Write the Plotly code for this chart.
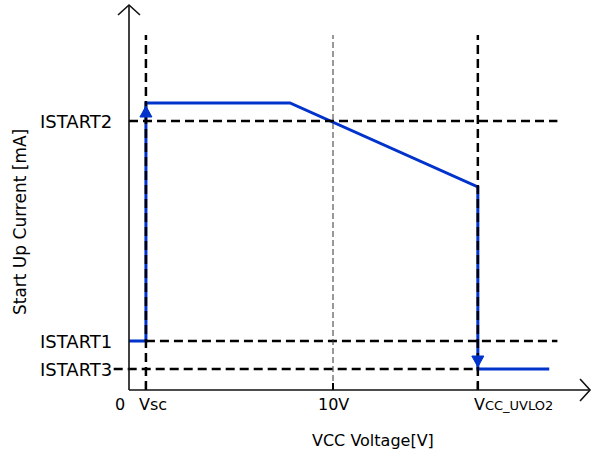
import plotly.graph_objects as go

# ---- data (schematic units: x in V, y in arbitrary current units) ----
x_labels = ["0", "Vsc", "10V", "V<span style=\"font-size:13px\">CC_UVLO2</span>"]
y_labels = ["ISTART2", "ISTART1", "ISTART3"]

V_SC = 0.83
V_10 = 10.0
V_KNEE = 7.89
V_UVLO2 = 17.1
V_END = 20.6

I_START1 = 0.49
I_START2 = 2.69
I_START3 = 0.21
I_PEAK = 2.87
I_AT_UVLO = 2.03

curve_x = [0, V_SC, V_SC, V_KNEE, V_UVLO2, V_UVLO2, V_END]
curve_y = [I_START1, I_START1, I_PEAK, I_PEAK, I_AT_UVLO, I_START3, I_START3]

X_AXIS_END = 22.6
Y_AXIS_END = 3.85
REF_TOP = 3.55
REF_RIGHT = 21.0

BLUE = "#0033CC"
FONT = "DejaVu Sans, Arial, sans-serif"

fig = go.Figure()

shapes = []
dash_style = dict(color="black", width=2.5, dash="9px,5px")
# horizontal reference lines
shapes.append(dict(type="line", x0=0, x1=REF_RIGHT, y0=I_START2, y1=I_START2, line=dash_style))
shapes.append(dict(type="line", x0=V_SC, x1=REF_RIGHT, y0=I_START1, y1=I_START1, line=dash_style))
shapes.append(dict(type="line", x0=-0.75, x1=V_UVLO2, y0=I_START3, y1=I_START3, line=dash_style))
# vertical reference lines
shapes.append(dict(type="line", x0=V_SC, x1=V_SC, y0=0, y1=REF_TOP, line=dash_style))
shapes.append(dict(type="line", x0=V_UVLO2, x1=V_UVLO2, y0=0, y1=REF_TOP, line=dash_style))
shapes.append(dict(type="line", x0=V_10, x1=V_10, y0=0, y1=REF_TOP,
                   line=dict(color="#333", width=1, dash="6px,3px")))
# tick marks
for xv in [V_SC, V_10, V_UVLO2]:
    shapes.append(dict(type="line", x0=xv, x1=xv, y0=0, y1=0.07, line=dict(color="black", width=2)))
# axes
axis_line = dict(color="#111", width=1.6)
shapes.append(dict(type="line", x0=0, x1=X_AXIS_END, y0=0, y1=0, line=axis_line))
shapes.append(dict(type="line", x0=0, x1=0, y0=0, y1=Y_AXIS_END, line=axis_line))
# open chevrons on axes
shapes.append(dict(type="path", xref="x", yref="y", xsizemode="pixel", ysizemode="pixel",
                   xanchor=X_AXIS_END, yanchor=0, path="M-10,11 L0,0 L-10,-11",
                   line=axis_line))
shapes.append(dict(type="path", xref="x", yref="y", xsizemode="pixel", ysizemode="pixel",
                   xanchor=0, yanchor=Y_AXIS_END, path="M-11,-10 L0,0 L11,-10",
                   line=axis_line))

fig.add_trace(go.Scatter(x=curve_x, y=curve_y, mode="lines",
                         line=dict(color=BLUE, width=3), hoverinfo="skip", showlegend=False))

# filled arrowheads on the curve
shapes.append(dict(type="path", xref="x", yref="y", xsizemode="pixel", ysizemode="pixel",
                   xanchor=V_SC, yanchor=I_PEAK - 0.03, path="M-6,-11 L0,0 L6,-11 Z",
                   fillcolor=BLUE, line=dict(color=BLUE, width=1), layer="above"))
shapes.append(dict(type="path", xref="x", yref="y", xsizemode="pixel", ysizemode="pixel",
                   xanchor=V_UVLO2, yanchor=I_START3 + 0.02, path="M-6,11 L0,0 L6,11 Z",
                   fillcolor=BLUE, line=dict(color=BLUE, width=1), layer="above"))

ann = []
tf = dict(family=FONT, size=16, color="black")
# y labels
for lab, yv in zip(y_labels, [I_START2, I_START1, I_START3]):
    ann.append(dict(x=-0.72, y=yv, text=lab, showarrow=False, xanchor="right", yanchor="middle",
                    font=dict(family=FONT, size=18, color="black")))
# x labels
label_y = -0.14
ann.append(dict(x=-0.44, y=label_y, text=x_labels[0], showarrow=False, xanchor="center", yanchor="middle", font=tf))
ann.append(dict(x=0.40, y=label_y, text=x_labels[1], showarrow=False, xanchor="left", yanchor="middle", font=tf))
ann.append(dict(x=V_10, y=label_y, text=x_labels[2], showarrow=False, xanchor="center", yanchor="middle", font=tf))
ann.append(dict(x=16.8, y=label_y, text=x_labels[3], showarrow=False, xanchor="left", yanchor="middle", font=tf))
# axis titles
ann.append(dict(x=11.96, y=-0.50, text="VCC Voltage[V]", showarrow=False, xanchor="center", yanchor="middle", font=tf))
ann.append(dict(x=-5.34, y=1.68, text="Start Up Current [mA]", showarrow=False, textangle=-90,
                xanchor="center", yanchor="middle", font=dict(family=FONT, size=17, color="black")))

fig.update_layout(
    width=602, height=463,
    margin=dict(l=0, r=0, t=0, b=0),
    paper_bgcolor="white", plot_bgcolor="white",
    xaxis=dict(range=[-129 / 20.4, 473 / 20.4], visible=False, fixedrange=True),
    yaxis=dict(range=[-0.73, 3.90], visible=False, fixedrange=True),
    shapes=shapes, annotations=ann, showlegend=False,
)

fig.write_html("out.html", config={"displayModeBar": False},
               post_script="document.body.style.margin='0';document.body.style.overflow='hidden';")
